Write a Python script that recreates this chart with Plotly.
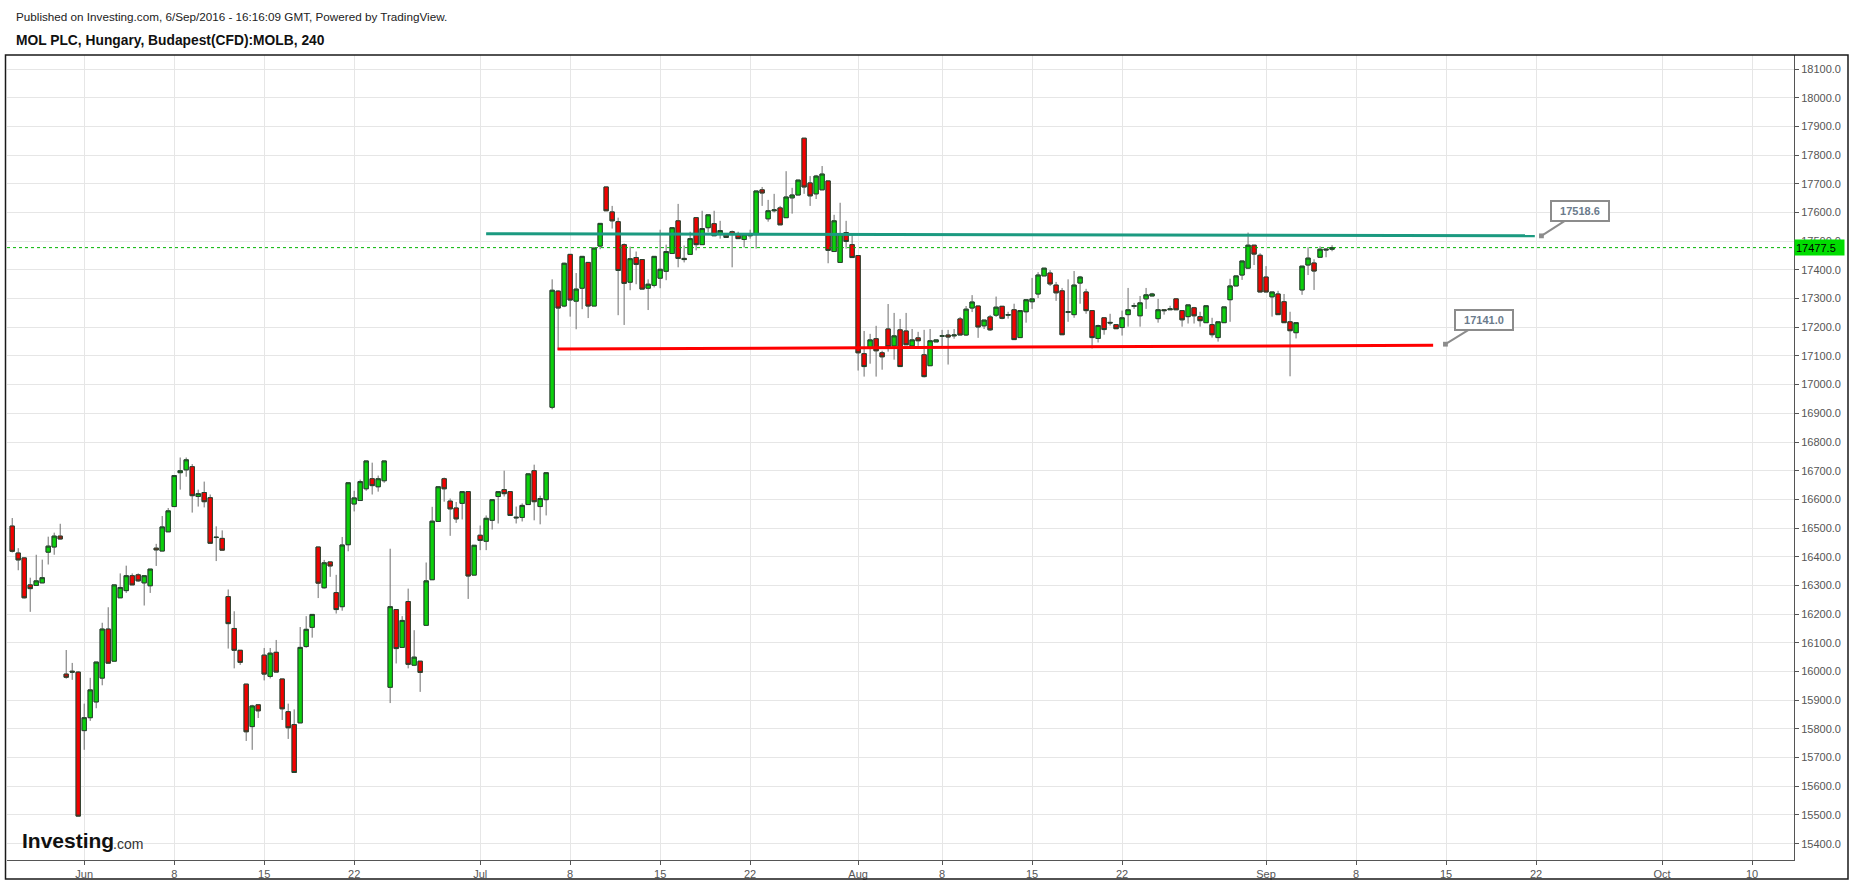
import plotly.graph_objects as go

# ---------------- data (4-hour bars, index = bar number) ----------------
opens = [16507,16413,16396,16302,16300,16309,16416,16434,16472,15991,
         16001,15998,15794,15839,15894,15977,16148,16036,16257,16282,
         16334,16337,16309,16299,16430,16420,16487,16575,16693,16703,
         16714,16610,16624,16606,16467,16464,16261,16150,16074,15956,
         15808,15884,16057,15983,16067,15974,15860,15815,15821,16087,
         16154,16434,16292,16382,16275,16226,16442,16584,16596,16637,
         16672,16644,16665,15945,16216,16084,16244,16022,16036,16161,
         16320,16523,16672,16594,16570,16586,16627,16336,16475,16454,
         16527,16610,16634,16627,16538,16537,16582,16700,16575,16599,
         16921,17326,17274,17454,17291,17336,17426,17274,17483,17689,
         17602,17568,17488,17357,17443,17436,17336,17346,17371,17395,
         17457,17571,17440,17454,17582,17488,17547,17561,17526,17526,
         17533,17526,17506,17526,17523,17679,17578,17606,17616,17582,
         17651,17661,17859,17703,17665,17679,17710,17464,17426,17530,
         17488,17450,17108,17128,17160,17111,17194,17135,17191,17187,
         17135,17163,17104,17066,17149,17169,17173,17170,17229,17173,
         17267,17274,17205,17236,17242,17273,17242,17261,17164,17254,
         17289,17316,17379,17389,17347,17327,17252,17244,17354,17323,
         17258,17161,17233,17217,17209,17199,17244,17273,17240,17299,
         17309,17230,17261,17261,17299,17258,17237,17268,17237,17216,
         17209,17164,17216,17296,17344,17382,17406,17486,17451,17375,
         17306,17316,17289,17219,17181,17330,17417,17424,17444,17469,
         17472]
highs = [16535,16430,16398,16327,16407,16390,16470,16484,16515,16075,
         16030,16001,15888,15978,16033,16170,16224,16302,16342,16369,
         16342,16342,16334,16357,16445,16542,16570,16683,16746,16746,
         16723,16634,16662,16617,16506,16492,16286,16210,16074,15956,
         15884,15884,16082,16082,16110,15974,15888,15868,16155,16193,
         16199,16434,16389,16382,16337,16469,16658,16630,16669,16734,
         16728,16683,16734,16428,16216,16193,16289,16144,16036,16380,
         16574,16644,16676,16603,16591,16627,16627,16440,16509,16544,
         16599,16627,16700,16627,16575,16586,16689,16721,16613,16693,
         17367,17329,17425,17454,17389,17447,17426,17476,17562,17689,
         17623,17582,17492,17481,17464,17436,17367,17447,17540,17488,
         17547,17630,17485,17533,17582,17606,17592,17606,17571,17526,
         17537,17533,17523,17540,17675,17689,17644,17665,17623,17744,
         17686,17713,17859,17727,17731,17762,17710,17592,17634,17571,
         17523,17450,17187,17177,17205,17118,17281,17250,17229,17250,
         17194,17184,17191,17194,17156,17191,17191,17194,17236,17274,
         17312,17274,17225,17243,17307,17273,17254,17282,17258,17296,
         17372,17392,17406,17399,17358,17337,17367,17396,17379,17334,
         17258,17209,17233,17247,17209,17258,17337,17285,17309,17337,
         17320,17299,17261,17275,17302,17258,17278,17271,17254,17275,
         17233,17219,17271,17369,17379,17431,17530,17486,17458,17413,
         17323,17327,17316,17254,17216,17413,17479,17437,17482,17472,
         17486]
lows = [16415,16353,16255,16208,16298,16309,16373,16407,16461,15975,
        15971,15496,15727,15828,15872,15952,16029,16036,16257,16274,
        16302,16313,16230,16274,16368,16420,16487,16575,16634,16679,
        16554,16575,16572,16447,16385,16423,16080,16011,16023,15758,
        15727,15838,15969,15976,15998,15831,15765,15648,15821,16083,
        16118,16256,16289,16330,16202,16212,16419,16558,16596,16630,
        16617,16627,16658,15890,16028,16084,16011,16019,15929,16161,
        16320,16523,16592,16473,16518,16530,16253,16336,16423,16423,
        16495,16516,16610,16544,16516,16523,16582,16527,16513,16544,
        16914,17121,17270,17237,17193,17263,17232,17274,17472,17606,
        17544,17242,17208,17329,17350,17333,17260,17339,17336,17364,
        17457,17409,17426,17454,17468,17488,17531,17519,17509,17512,
        17409,17509,17478,17509,17474,17623,17568,17600,17557,17582,
        17596,17661,17665,17623,17647,17679,17423,17464,17426,17474,
        17443,17049,17028,17073,17028,17052,17115,17087,17063,17139,
        17132,17135,17025,17066,17149,17132,17070,17160,17173,17170,
        17253,17163,17194,17187,17236,17228,17230,17157,17164,17216,
        17264,17302,17379,17344,17292,17174,17219,17233,17282,17247,
        17126,17147,17174,17206,17195,17171,17202,17264,17202,17264,
        17309,17216,17244,17261,17261,17202,17213,17213,17202,17216,
        17164,17150,17216,17219,17344,17365,17403,17417,17323,17323,
        17237,17244,17216,17029,17161,17313,17382,17330,17444,17444,
        17465]
closes = [16419,16389,16257,16289,16316,16327,16437,16472,16462,15980,
          15998,15496,15839,15936,16033,16148,16029,16302,16293,16334,
          16302,16316,16334,16357,16424,16504,16560,16683,16700,16738,
          16613,16620,16592,16447,16468,16423,16167,16074,16032,15790,
          15880,15863,15991,16064,15998,15870,15804,15648,16084,16147,
          16199,16308,16379,16368,16216,16441,16658,16605,16662,16734,
          16648,16672,16734,16226,16080,16178,16025,16050,15997,16316,
          16524,16644,16637,16567,16532,16627,16333,16440,16457,16534,
          16599,16627,16620,16544,16536,16579,16689,16592,16603,16693,
          17329,17267,17423,17295,17333,17447,17274,17476,17562,17606,
          17571,17398,17353,17439,17419,17333,17350,17447,17402,17464,
          17547,17440,17436,17509,17488,17544,17592,17519,17537,17513,
          17523,17509,17523,17519,17675,17668,17606,17609,17557,17654,
          17661,17713,17689,17658,17727,17734,17468,17571,17526,17499,
          17443,17111,17063,17156,17118,17097,17132,17170,17063,17139,
          17156,17153,17028,17153,17156,17170,17166,17173,17173,17263,
          17288,17201,17225,17191,17270,17231,17244,17157,17258,17296,
          17299,17382,17406,17351,17320,17174,17254,17347,17375,17258,
          17164,17206,17192,17215,17195,17233,17261,17275,17285,17313,
          17316,17261,17258,17264,17261,17226,17278,17240,17223,17275,
          17174,17219,17271,17344,17379,17431,17486,17455,17323,17323,
          17323,17244,17216,17188,17216,17413,17441,17396,17472,17472,
          17477.5]

tick_positions = [12, 27, 42, 57, 78, 93, 108, 123, 141, 155, 170, 185, 209, 224, 239, 254, 275, 290]
tick_labels = ["Jun", "8", "15", "22", "Jul", "8", "15", "22", "Aug", "8", "15", "22",
               "Sep", "8", "15", "22", "Oct", "10"]

resistance_x = [79.0, 253.8]
resistance_y = [17526, 17519]
support_x = [90.9, 236.85]
support_y = [17124, 17137]
callout_resistance = (254.9, 17518.6)
callout_support = (238.9, 17141.0)
last_price = 17477.5

# ---------------- layout geometry ----------------
W, H = 1851, 887
ML, MR, MT, MB = 7, 57, 55, 22
PW, PH = W - ML - MR, H - MT - MB


def px(x):
    return (x - ML) / PW


def py(y):
    return 1 - (y - MT) / PH


idx = list(range(len(opens)))
body_hi = [max(o, c) for o, c in zip(opens, closes)]
body_lo = [min(o, c) for o, c in zip(opens, closes)]

FONT = "Liberation Sans, Arial, sans-serif"
UP = "#0bd10b"
DOWN = "#f40000"
BORDER = "#25422d"
WICK = "#6e6e6e"

fig = go.Figure()

# wicks (gray)
fig.add_trace(go.Candlestick(
    x=idx, open=opens, high=highs, low=lows, close=closes,
    increasing=dict(line=dict(color=WICK, width=1), fillcolor="rgba(0,0,0,0)"),
    decreasing=dict(line=dict(color=WICK, width=1), fillcolor="rgba(0,0,0,0)"),
    whiskerwidth=0, showlegend=False, hoverinfo="skip"))

# bodies
fig.add_trace(go.Candlestick(
    x=idx, open=opens, high=body_hi, low=body_lo, close=closes,
    increasing=dict(line=dict(color=BORDER, width=1), fillcolor=UP),
    decreasing=dict(line=dict(color=BORDER, width=1), fillcolor=DOWN),
    whiskerwidth=0, showlegend=False, hoverinfo="skip"))

# trend lines
fig.add_trace(go.Scatter(x=resistance_x, y=resistance_y, mode="lines",
                         line=dict(color="#1b9a80", width=3),
                         showlegend=False, hoverinfo="skip"))
fig.add_trace(go.Scatter(x=support_x, y=support_y, mode="lines",
                         line=dict(color="#ff0000", width=3),
                         showlegend=False, hoverinfo="skip"))

shapes = [
    dict(type="line", xref="paper", yref="y", x0=0, x1=1, y0=last_price, y1=last_price,
         line=dict(color="#00b400", width=1, dash="dot"), layer="above"),
    dict(type="rect", xref="paper", yref="paper", x0=px(5.5), x1=px(1848), y0=py(884), y1=py(55),
         line=dict(color="#1a1a1a", width=1.5), fillcolor="rgba(0,0,0,0)", layer="above"),
]

annotations = [
    dict(xref="paper", yref="paper", x=px(14), y=py(16.5), xanchor="left", yanchor="middle",
         text="Published on Investing.com, 6/Sep/2016 - 16:16:09 GMT, Powered by TradingView.",
         showarrow=False, font=dict(family=FONT, size=11.7, color="#222222")),
    dict(xref="paper", yref="paper", x=px(14), y=py(40), xanchor="left", yanchor="middle",
         text="<b>MOL PLC, Hungary, Budapest(CFD):MOLB, 240</b>",
         showarrow=False, font=dict(family=FONT, size=13.8, color="#111111")),
    dict(xref="paper", yref="paper", x=px(20), y=py(845), xanchor="left", yanchor="middle",
         text="<b>Investing</b>", showarrow=False,
         font=dict(family=FONT, size=21, color="#111111")),
    dict(xref="paper", yref="paper", x=px(111), y=py(849), xanchor="left", yanchor="middle",
         text=".com", showarrow=False,
         font=dict(family=FONT, size=14, color="#333333")),
    # price tag on axis
    dict(xref="paper", yref="y", x=1, y=last_price, xanchor="left", yanchor="middle",
         text="17477.5", showarrow=False, bgcolor="#00dd00", borderpad=1, width=47, height=13,
         align="left", font=dict(family=FONT, size=11, color="#000000")),
    # callouts
    dict(x=callout_resistance[0], y=callout_resistance[1], xref="x", yref="y",
         text="<b>%.1f</b>" % callout_resistance[1], showarrow=True, arrowhead=7, arrowsize=0.6,
         arrowwidth=2, arrowcolor="#8c8c8c", ax=39, ay=-25, bgcolor="#ffffff",
         bordercolor="#8c8c8c", borderwidth=2, borderpad=3, width=50,
         font=dict(family=FONT, size=11, color="#6b7b8c")),
    dict(x=callout_support[0], y=callout_support[1], xref="x", yref="y",
         text="<b>%.1f</b>" % callout_support[1], showarrow=True, arrowhead=7, arrowsize=0.6,
         arrowwidth=2, arrowcolor="#8c8c8c", ax=39, ay=-24, bgcolor="#ffffff",
         bordercolor="#8c8c8c", borderwidth=2, borderpad=3, width=50,
         font=dict(family=FONT, size=11, color="#6b7b8c")),
]

fig.update_layout(
    width=W, height=H, autosize=False,
    margin=dict(l=ML, r=MR, t=MT, b=MB, pad=0),
    paper_bgcolor="#ffffff", plot_bgcolor="#ffffff",
    showlegend=False, boxgap=0.28, boxgroupgap=0,
    shapes=shapes, annotations=annotations,
    hovermode=False,
    xaxis=dict(range=[-0.87, 297.0], tickmode="array", tickvals=tick_positions, ticktext=tick_labels,
               showgrid=True, gridcolor="#e6e6e6", gridwidth=1, zeroline=False,
               ticks="outside", ticklen=4, tickcolor="#555555",
               showline=True, linecolor="#555555", linewidth=1,
               tickfont=dict(family="Liberation Sans Narrow, " + FONT, size=11, color="#555555"),
               rangeslider=dict(visible=False), fixedrange=True),
    yaxis=dict(side="right", range=[15343, 18149], tick0=0, dtick=100, tickformat=".1f",
               showgrid=True, gridcolor="#e6e6e6", gridwidth=1, zeroline=False,
               ticks="outside", ticklen=4, tickcolor="#555555",
               showline=True, linecolor="#555555", linewidth=1,
               tickfont=dict(family=FONT, size=11, color="#555555"), fixedrange=True),
)

fig.write_html("out.html", config={"displayModeBar": False},
               post_script="document.body.style.margin='0';document.body.style.overflow='hidden';")
